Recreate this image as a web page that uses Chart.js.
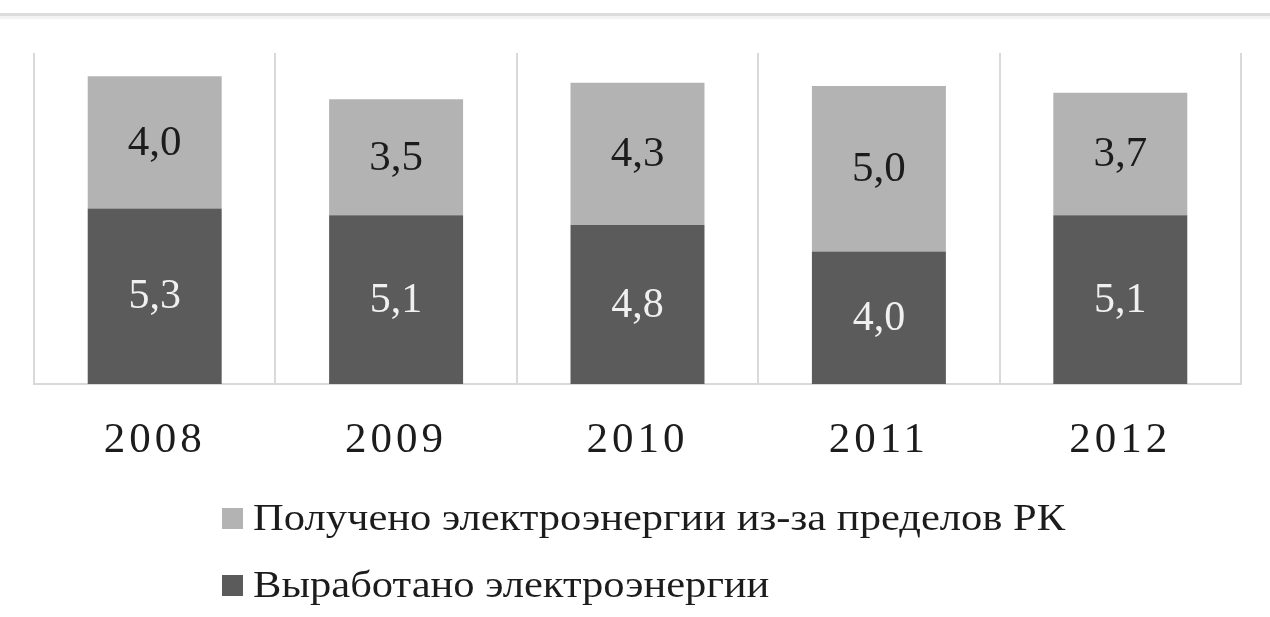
<!DOCTYPE html>
<html>
<head>
<meta charset="utf-8">
<script src="https://cdn.jsdelivr.net/npm/chart.js@4/dist/chart.umd.min.js"></script>
<style>
  html, body { margin: 0; padding: 0; background: #fff; }
  #wrap { position: relative; width: 1270px; height: 617px; }
</style>
</head>
<body>
<div id="wrap"><canvas id="elChart" width="1270" height="617"></canvas></div>
<script>
// данные
var years = ['2008', '2009', '2010', '2011', '2012'];
var produced = [5.3, 5.1, 4.8, 4.0, 5.1];   // Выработано электроэнергии
var imported = [4.0, 3.5, 4.3, 5.0, 3.7];   // Получено из-за пределов РК
var seriesNames = ['Выработано электроэнергии', 'Получено электроэнергии из-за пределов РК'];

var darkGray = '#5b5b5b';
var lightGray = '#b3b3b3';
var serif = '"Liberation Serif", "Times New Roman", serif';

// подписи значений на столбиках
var valueLabels = {
    id: 'valueLabels',
    afterDatasetsDraw(chart) {
        var ctx = chart.ctx;
        ctx.save();
        ctx.letterSpacing = '0px';
        ctx.textAlign = 'center';
        ctx.textBaseline = 'middle';
        chart.data.datasets.forEach(function (ds, i) {
            var meta = chart.getDatasetMeta(i);
            meta.data.forEach(function (bar, j) {
                var v = ds.data[j];
                if (i === 0) {
                    ctx.font = '42px ' + serif;
                    ctx.fillStyle = '#f0f0f0';
                } else {
                    ctx.font = '43px ' + serif;
                    ctx.fillStyle = '#1c1c1c';
                }
                ctx.fillText(v.toFixed(1).replace('.', ','), bar.x, (bar.y + bar.base) / 2 + 1);
            });
        });
        ctx.restore();
    }
};

// верхняя линия и легенда
var extras = {
    id: 'extras',
    beforeDraw(chart) {
        var ctx = chart.ctx;
        ctx.save();
        ctx.fillStyle = '#f3f3f3';
        ctx.fillRect(0, 16, chart.width, 3);
        ctx.fillStyle = '#dcdcdc';
        ctx.fillRect(0, 13, chart.width, 3);
        ctx.restore();
        ctx.letterSpacing = '4px';
    },
    afterDraw(chart) {
        var ctx = chart.ctx;
        ctx.save();
        ctx.letterSpacing = '0px';
        ctx.font = '38px ' + serif;
        ctx.textBaseline = 'middle';
        var rows = [
            { name: seriesNames[1], color: lightGray, y: 519 },
            { name: seriesNames[0], color: darkGray, y: 586 }
        ];
        rows.forEach(function (r) {
            ctx.fillStyle = r.color;
            ctx.fillRect(222, r.y - 11, 21, 21);
            ctx.fillStyle = '#1c1c1c';
            ctx.save();
            ctx.translate(253, r.y + 1);
            ctx.scale(1.12, 1);
            ctx.fillText(r.name, 0, 0);
            ctx.restore();
        });
        ctx.restore();
    }
};

var ctx = document.getElementById('elChart');
window.myChart = new Chart(ctx, {
    type: 'bar',
    data: {
        labels: years,
        datasets: [{
            label: seriesNames[0],
            data: produced,
            backgroundColor: darkGray
        }, {
            label: seriesNames[1],
            data: imported,
            backgroundColor: lightGray
        }]
    },
    options: {
        responsive: false,
        animation: false,
        categoryPercentage: 0.555,
        barPercentage: 1,
        layout: {
            padding: { left: 34, right: 29, top: 53, bottom: 0 }
        },
        plugins: {
            legend: { display: false },
            tooltip: { enabled: false }
        },
        scales: {
            x: {
                stacked: true,
                grid: {
                    offset: true,
                    color: '#d9d9d9',
                    lineWidth: 2,
                    drawTicks: false
                },
                border: { color: '#d9d9d9', width: 2 },
                ticks: {
                    color: '#1c1c1c',
                    font: { family: serif, size: 43 },
                    padding: 31
                },
                afterFit: function (scale) { scale.height = 233; }
            },
            y: {
                stacked: true,
                display: false,
                min: 0,
                max: 10
            }
        }
    },
    plugins: [valueLabels, extras]
});
</script>
</body>
</html>
